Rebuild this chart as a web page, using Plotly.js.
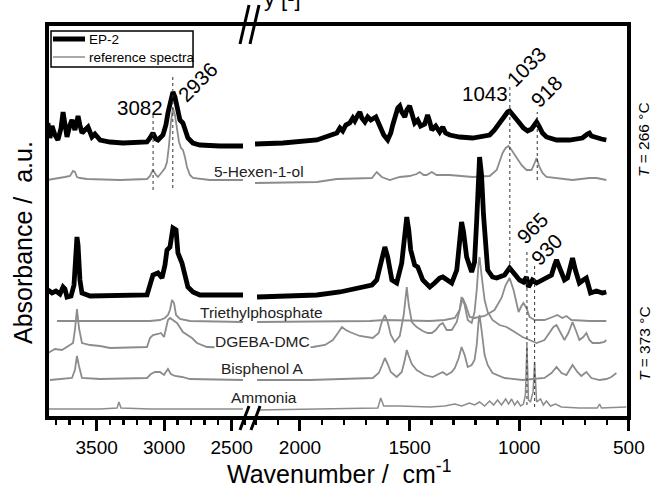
<!DOCTYPE html>
<html>
<head>
<meta charset="utf-8">
<script src="https://cdn.plot.ly/plotly-3.0.1.min.js"></script>
<style>html,body{margin:0;padding:0;background:#fff;}#chart{width:652px;height:486px;}</style>
</head>
<body>
<div id="chart"></div>
<script>
// ---- Data (wavenumber in cm^-1, absorbance in arbitrary units incl. stacking offset) ----
const wnEP266 = [3861,3846,3831,3809,3787,3764,3749,3735,3720,3698,3683,3661,3638,3624,3609,3587,3564,3535,3513,3475,3401,3305,3179,3127,3105,3083,3061,3046,3009,2987,2972,2950,2935,2920,2905,2883,2861,2846,2824,2787,2735,2587,2416,null,
  2205,2078,1923,1877,1850,1832,1818,1805,1791,1773,1759,1750,1736,1727,1718,1704,1691,1677,1654,1636,1618,1600,1586,1577,1563,1554,1545,1536,1522,1513,1500,1490,1477,1463,1450,1431,1418,1408,1399,1381,1363,1349,1336,1317,1272,1213,1158,1135,1113,1099,1081,1067,1053,1044,1031,1017,999,981,962,944,930,921,908,894,876,830,771,712,689,680,671,648,625,603];
const absEP266 = [295,280,292,283,278,290,306,293,281,293,298,288,302,293,285,288,291,281,284,278,276,275,275,276,280,285,279,278,283,293,305,320,326,321,313,298,295,288,280,275,273,272,272,null,
  274,275,278,281,283,285,290,287,293,295,300,297,303,306,300,296,301,298,301,291,283,278,285,293,303,310,312,306,301,308,312,303,295,298,292,294,303,296,288,292,286,291,285,283,281,280,282,283,288,292,299,303,306,307,303,299,295,290,287,289,294,296,291,285,281,278,278,280,284,285,282,280,279,278];

const wnHexenol = [3868,3809,3772,3735,3698,3675,3661,3646,3624,3572,3327,3127,3105,3083,3061,3046,3016,2994,2979,2964,2950,2935,2920,2905,2890,2875,2861,2846,2831,2809,2787,2661,2416,null,
  2205,1923,1832,1727,1672,1650,1627,1591,1545,1500,1468,1454,1436,1422,1399,1377,1317,1213,1135,1103,1090,1076,1062,1049,1035,1021,1008,990,967,944,930,921,908,894,876,757,680,648,603];
const absHexenol = [238,239,240,241,242,247,246,241,240,239,238,239,242,248,243,241,246,250,256,273,296,310,303,291,276,270,268,261,251,243,240,238,238,null,
  235,236,239,240,240,246,241,238,241,242,244,246,243,243,246,243,243,241,242,248,256,265,270,272,268,263,258,253,248,248,255,260,251,245,241,238,240,240,238];

const wnEP373 = [3861,3831,3802,3772,3749,3735,3720,3690,3668,3653,3646,3638,3624,3609,3549,3127,3105,3083,3046,3016,2994,2979,2957,2935,2912,2898,2868,2846,2824,2787,2735,2416,null,
  2196,1923,1818,1773,1727,1695,1672,1650,1636,1627,1613,1600,1581,1559,1536,1522,1513,1504,1495,1477,1463,1440,1408,1386,1363,1349,1327,1308,1285,1272,1263,1254,1240,1217,1204,1194,1185,1181,1172,1163,1144,1122,1103,1067,1044,1021,999,981,967,958,940,921,899,876,853,839,830,812,794,780,767,757,744,726,708,694,685,675,648,621,603];
const absEP373 = [128,125,127,124,131,129,121,122,133,168,181,173,138,125,122,123,135,143,145,140,153,168,171,190,188,165,155,145,131,126,123,123,null,
  121,123,126,128,130,131,133,138,150,161,171,161,138,135,155,183,201,188,168,153,151,138,131,135,140,141,138,135,148,178,196,186,161,146,156,198,253,261,243,203,148,141,140,143,150,143,138,136,141,131,138,135,138,141,143,153,158,148,138,140,153,160,148,135,138,140,133,125,127,125,126];

const wnTEP = [3794,3475,3105,3031,2994,2972,2957,2942,2927,2912,2883,2809,2416,null,
  2196,1682,1613,1408,1340,1294,1272,1258,1244,1226,1204,1158,1113,1081,1062,1044,1026,1012,1003,990,981,967,953,930,885,848,826,803,785,762,680,603];
const absTEP = [97,97,97,98,100,103,108,118,115,103,99,97,96,null,
  96,97,98,97,98,100,108,120,113,101,100,102,108,120,133,140,128,113,106,112,115,110,101,98,98,101,103,100,102,98,97,97];

const wnDGEBA = [3861,3809,3757,3720,3675,3661,3646,3631,3609,3549,3475,3401,3127,3105,3083,3046,3024,3001,2987,2972,2957,2935,2905,2861,2831,2794,2757,2683,2416,null,
  2196,1941,1886,1850,1827,1809,1791,1773,1727,1668,1641,1627,1613,1600,1586,1568,1545,1527,1513,1504,1490,1468,1440,1418,1399,1381,1363,1349,1331,1308,1285,1272,1263,1249,1235,1217,1204,1194,1185,1181,1172,1158,1144,1122,1090,1058,1021,985,953,921,885,862,844,830,812,794,776,757,739,726,708,694,680,666,634,612,603];
const absDGEBA = [65,69,68,71,75,88,109,90,75,73,72,70,71,80,83,84,85,81,90,98,100,98,95,86,83,80,75,71,70,null,
  70,71,73,78,85,91,88,86,82,80,85,96,103,96,83,76,82,103,131,113,96,91,87,85,85,88,93,95,88,88,96,108,121,113,98,95,106,128,156,161,143,118,106,98,93,91,86,81,78,75,78,85,91,93,85,78,85,96,86,78,81,85,78,75,75,76,78];

const wnBPA = [3846,3772,3683,3661,3646,3631,3609,3475,3127,3098,3068,3031,3001,2987,2972,2950,2920,2868,2809,2416,null,
  2196,1955,1668,1641,1627,1613,1600,1586,1559,1536,1522,1513,1504,1490,1468,1431,1395,1363,1349,1331,1308,1294,1276,1263,1249,1235,1217,1204,1194,1185,1181,1172,1158,1144,1122,1067,985,885,853,830,807,785,757,735,717,694,671,634,603,580,557];
const absBPA = [38,39,40,48,62,52,40,39,40,44,46,46,43,46,49,44,42,41,39,38,null,
  38,38,40,45,52,60,54,46,41,46,58,68,62,54,48,43,41,44,46,43,46,50,60,71,63,51,53,58,73,98,103,88,63,53,45,40,38,40,45,51,45,43,53,46,42,46,40,38,39,41,45];

const wnNH3 = [3861,3475,3349,3335,3320,3105,2416,null,
  2196,1818,1645,1632,1618,1545,1408,1340,1294,1263,1227,1204,1181,1158,1135,1117,1099,1081,1062,1049,1035,1021,1008,994,981,972,965,958,949,937,930,921,903,890,876,858,835,808,726,644,634,625,512];
const absNH3 = [9,9,10,16,10,9,9,null,
  8,9,10,20,12,12,11,12,14,12,15,13,16,12,17,13,18,13,19,14,19,13,17,12,14,23,73,18,16,26,56,16,19,13,17,12,14,11,10,10,14,10,11];

// reference spectra names (curve labels)
const refNames = ['5-Hexen-1-ol','Triethylphosphate','DGEBA-DMC','Bisphenol A','Ammonia'];
// legend entries
const legendNames = ['EP-2','reference spectra'];
// marked peak positions (cm^-1)
const peakWn = [3082, 2936, 1043, 918, 965, 930];

// ---- Build traces ----
const black = '#000000', gray = '#8c8c8c';
const traces = [];
function addSpectrum(wn, ab, color, width){
  ['x','x2'].forEach(function(ax){
    traces.push({
      x: wn, y: ab, xaxis: ax, yaxis: 'y', type: 'scatter', mode: 'lines',
      connectgaps: false, line: {color: color, width: width},
      showlegend: false, hoverinfo: 'skip'
    });
  });
}
addSpectrum(wnHexenol, absHexenol, gray, 1.8);
addSpectrum(wnTEP, absTEP, gray, 1.8);
addSpectrum(wnDGEBA, absDGEBA, gray, 1.8);
addSpectrum(wnBPA, absBPA, gray, 1.8);
addSpectrum(wnNH3, absNH3, gray, 1.5);
addSpectrum(wnEP373, absEP373, black, 4.8);
addSpectrum(wnEP266, absEP266, black, 4.8);

// ---- Layout helpers ----
const fontFam = 'Liberation Sans, Arial, sans-serif';
function axisCommon(extra){
  return Object.assign({
    autorange: false, tick0: 0, dtick: 500, ticks: 'outside', ticklen: 12, tickwidth: 3,
    tickcolor: '#000', showgrid: false, zeroline: false, showline: false,
    tickfont: {size: 19, color: '#000', family: fontFam}, ticklabelstandoff: 0,
    minor: {tick0: 0, dtick: 100, ticks: 'outside', ticklen: 6, tickwidth: 2.5, tickcolor: '#000', showgrid: false},
    anchor: 'y', fixedrange: true
  }, extra);
}

// dotted peak marker lines: [axis, wn index, y0, y1]
const dotSpecs = [['x',0,228,303],['x',1,230,343],['x2',2,148,333],['x2',3,238,306],['x2',4,13,168],['x2',5,11,153]];
const shapes = [];
dotSpecs.forEach(function(d){
  shapes.push({type:'line', xref:d[0], yref:'y', x0:peakWn[d[1]], x1:peakWn[d[1]], y0:d[2], y1:d[3],
    line:{color:'#333', width:1, dash:'dot'}});
});
// frame
shapes.push({type:'rect', xref:'paper', yref:'paper', x0:0, x1:1, y0:0, y1:1, line:{color:'#000', width:4}, layer:'above'});
// axis-break marks
[[0.3316,0.9492,0.3471,1.0482],[0.3488,0.9492,0.3643,1.0482],[0.3316,-0.0305,0.3471,0.0305],[0.3505,-0.0305,0.3660,0.0305]].forEach(function(s){
  shapes.push({type:'line', xref:'paper', yref:'paper', x0:s[0], y0:s[1], x1:s[2], y1:s[3], line:{color:'#000', width:3}});
});
// legend box and samples
shapes.push({type:'rect', xref:'paper', yref:'paper', x0:0.0069, x1:0.2509, y0:0.8909, y1:0.9822, line:{color:'#000', width:1.5}, fillcolor:'#fff'});
shapes.push({type:'line', xref:'paper', yref:'paper', x0:0.0103, x1:0.0653, y0:0.9619, y1:0.9619, line:{color:black, width:5}});
shapes.push({type:'line', xref:'paper', yref:'paper', x0:0.0103, x1:0.0653, y0:0.9162, y1:0.9162, line:{color:gray, width:1.7}});

const annotations = [];
function ann(text, x, y, size, angle, extra){
  annotations.push(Object.assign({text:text, x:x, y:y, xref:'paper', yref:'paper', showarrow:false,
    xanchor:'center', yanchor:'middle', textangle:angle||0, font:{size:size, color:'#000', family:fontFam}}, extra||{}));
}
// legend texts
ann(legendNames[0], 0.0687, 0.9619, 13.5, 0, {xanchor:'left'});
ann(legendNames[1], 0.0687, 0.9162, 13.5, 0, {xanchor:'left'});
// peak labels
ann(String(peakWn[0]), 0.1598, 0.7893, 20.5, 0);
ann(String(peakWn[1]), 0.2595, 0.8528, 20.5, -45);
ann(String(peakWn[2]), 0.7534, 0.8236, 20.5, 0);
ann('1033', 0.8230, 0.8934, 20.5, -45);
ann(String(peakWn[3]), 0.8574, 0.8299, 20.5, -45);
ann(String(peakWn[4]), 0.8325, 0.4822, 20.5, -45);
ann(String(peakWn[5]), 0.8574, 0.4289, 20.5, -45);
// reference spectra labels
const lblFont = {size:15.5, color:'#222', family:fontFam};
ann(refNames[0], 0.3643, 0.6244, 15.5, 0, {font:lblFont});
ann(refNames[1], 0.3694, 0.2665, 15.5, 0, {font:lblFont});
ann(refNames[2], 0.3711, 0.1929, 15.5, 0, {font:lblFont, bgcolor:'#fff', borderpad:0});
ann(refNames[3], 0.3703, 0.1244, 15.5, 0, {font:lblFont, bgcolor:'#fff', borderpad:0});
ann(refNames[4], 0.3729, 0.0508, 15.5, 0, {font:lblFont});
// temperature labels
ann('<i>T</i> = 266 °C', 1.0258, 0.7056, 15.5, -90);
ann('<i>T</i> = 373 °C', 1.0258, 0.1878, 15.5, -90);
// axis titles
ann('Absorbance /  a.u.', -0.0412, 0.4442, 25, -90);
ann('Wavenumber /  cm<sup>-1</sup>', 0.5009, -0.1370, 25, 0);
// clipped text at top edge
ann('y [-]', 0.3694, 1.0275, 22, 0, {xanchor:'left', yanchor:'bottom'});

const layout = {
  width: 652, height: 486,
  margin: {l: 47, r: 23, t: 24, b: 68, pad: 0},
  paper_bgcolor: '#fff', plot_bgcolor: '#fff',
  font: {family: fontFam, color: '#000'},
  showlegend: false,
  xaxis: axisCommon({domain: [0, 0.3488], range: [3868, 2364]}),
  xaxis2: axisCommon({domain: [0.3488, 1], range: [2228, 499.5]}),
  yaxis: {range: [0, 394], autorange: false, showticklabels: false, ticks: '', showgrid: false,
    zeroline: false, showline: false, fixedrange: true},
  shapes: shapes,
  annotations: annotations
};

Plotly.newPlot('chart', traces, layout, {displayModeBar: false, staticPlot: true});
</script>
</body>
</html>
